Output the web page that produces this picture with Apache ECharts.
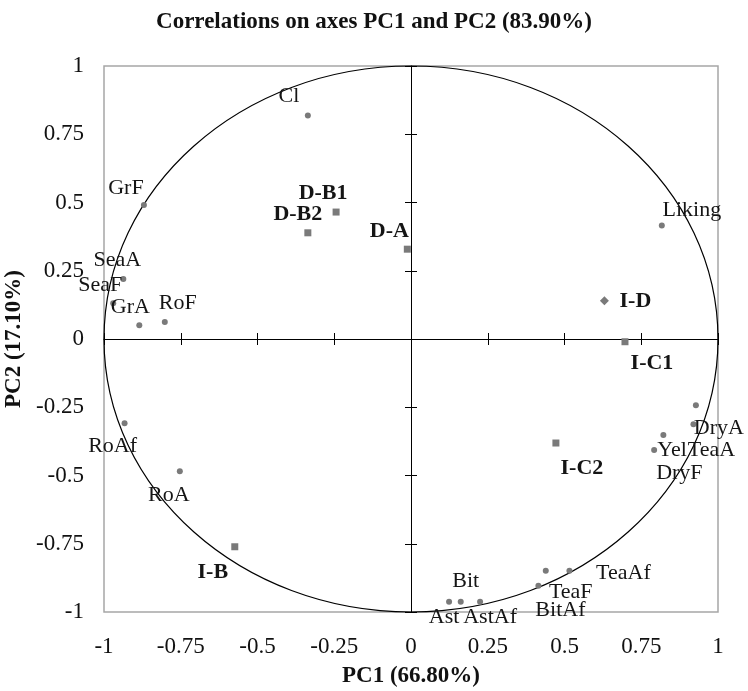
<!DOCTYPE html>
<html>
<head>
<meta charset="utf-8">
<script src="https://cdn.jsdelivr.net/npm/echarts@6/dist/echarts.min.js"></script>
<style>html,body{margin:0;padding:0;background:#fff}#c{width:748px;height:691px}</style>
</head>
<body>
<div id="c"></div>
<script>
// ---- data ----
var xTicks = [-1, -0.75, -0.5, -0.25, 0, 0.25, 0.5, 0.75, 1];
var yTicks = [-1, -0.75, -0.5, -0.25, 0, 0.25, 0.5, 0.75, 1];

var varNames = ['Cl','GrF','SeaA','SeaF','GrA','RoF','Liking','DryA','TeaA','DryF','Yel','Ast','Bit','AstAf','BitAf','TeaF','TeaAf','RoAf','RoA'];
var varX = [-0.336,-0.870,-0.937,-0.970,-0.885,-0.802,0.817,0.928,0.920,0.822,0.792,0.124,0.162,0.225,0.415,0.439,0.516,-0.933,-0.753];
var varY = [0.819,0.491,0.220,0.131,0.050,0.062,0.416,-0.243,-0.312,-0.352,-0.407,-0.962,-0.962,-0.962,-0.904,-0.849,-0.849,-0.309,-0.484];

var sampleNames = ['D-B1','D-B2','D-A','I-C1','I-C2','I-B'];
var sampleX = [-0.244,-0.336,-0.012,0.697,0.472,-0.574];
var sampleY = [0.465,0.389,0.329,-0.010,-0.381,-0.761];

var idNames = ['I-D'];
var idX = [0.630];
var idY = [0.140];

// ---- label placement (styling, px offsets of label centre from marker) ----
var labelOffsets = {
  'Cl':[-19,-19],'GrF':[-18,-17],'SeaA':[-6,-19],'SeaF':[-13,-18],'GrA':[-9,-18],'RoF':[13,-19],
  'Liking':[30,-15],'DryA':[23,23],'TeaA':[18,26],'DryF':[16,38],'Yel':[18,0],
  'Ast':[-5,16],'Bit':[5,-20],'AstAf':[10,16],'BitAf':[22,24],'TeaF':[25,21],'TeaAf':[54,2],
  'RoAf':[-12,23],'RoA':[-11,24],
  'D-B1':[-13,-19],'D-B2':[-10,-18],'D-A':[-18,-18],'I-C1':[27,22],'I-C2':[26,25],'I-B':[-22,26],'I-D':[31,1]
};

var FONT = 'Liberation Serif, Times New Roman, serif';

function build(names, xs, ys, bold) {
  return names.map(function (n, i) {
    return {
      name: n,
      value: [xs[i], ys[i]],
      label: {
        show: true, formatter: n, position: 'inside',
        offset: labelOffsets[n] || [0, 0],
        align: 'center', verticalAlign: 'middle',
        color: '#151515', textBorderWidth: 0, textBorderColor: 'transparent',
        fontFamily: FONT, fontSize: 22,
        fontWeight: bold ? 'bold' : 'normal'
      }
    };
  });
}

var chart = echarts.init(document.getElementById('c'));

var baseX = {
  type: 'value', min: -1, max: 1, interval: 0.25, position: 'bottom',
  splitLine: { show: false }
};
var baseY = {
  type: 'value', min: -1, max: 1, interval: 0.25, position: 'left',
  splitLine: { show: false }
};

var option = {
  backgroundColor: '#fff',
  animation: false,
  title: {
    text: 'Correlations on axes PC1 and PC2 (83.90%)',
    left: 'center', top: 6,
    textStyle: { fontFamily: FONT, fontWeight: 'bold', fontSize: 23, color: '#111' }
  },
  grid: {
    left: 104, right: 30, top: 66, bottom: 79,
    outerBoundsMode: 'none', containLabel: false,
    show: true, borderColor: '#a6a6a6', borderWidth: 1.5, backgroundColor: 'transparent'
  },
  xAxis: [
    Object.assign({}, baseX, {
      axisLine: { show: false, onZero: false },
      axisTick: { show: false },
      axisLabel: {
        margin: 23, fontFamily: FONT, fontSize: 23, color: '#111',
        formatter: function (v) { var t = xTicks.filter(function (k) { return Math.abs(k - v) < 1e-9; }); return t.length ? String(t[0]) : ''; }
      },
      name: 'PC1 (66.80%)', nameLocation: 'middle', nameGap: 53,
      nameTextStyle: { fontFamily: FONT, fontWeight: 'bold', fontSize: 23, color: '#111' }
    }),
    Object.assign({}, baseX, {
      axisLine: { show: true, onZero: true, onZeroAxisIndex: 0, lineStyle: { color: '#000', width: 1 } },
      axisTick: { show: true, inside: false, length: 6, lineStyle: { color: '#000', width: 1 } },
      axisLabel: { show: false }
    }),
    Object.assign({}, baseX, {
      axisLine: { show: false, onZero: true, onZeroAxisIndex: 0 },
      axisTick: { show: true, inside: true, length: 6, lineStyle: { color: '#000', width: 1 } },
      axisLabel: { show: false }
    })
  ],
  yAxis: [
    Object.assign({}, baseY, {
      axisLine: { show: false, onZero: false },
      axisTick: { show: false },
      axisLabel: {
        margin: 20, fontFamily: FONT, fontSize: 23, color: '#111',
        formatter: function (v) { var t = yTicks.filter(function (k) { return Math.abs(k - v) < 1e-9; }); return t.length ? String(t[0]) : ''; }
      },
      name: 'PC2 (17.10%)', nameLocation: 'middle', nameGap: 70,
      nameTextStyle: { fontFamily: FONT, fontWeight: 'bold', fontSize: 23, color: '#111' }
    }),
    Object.assign({}, baseY, {
      axisLine: { show: true, onZero: true, onZeroAxisIndex: 0, lineStyle: { color: '#000', width: 1 } },
      axisTick: { show: true, inside: false, length: 6, lineStyle: { color: '#000', width: 1 } },
      axisLabel: { show: false }
    }),
    Object.assign({}, baseY, {
      axisLine: { show: false, onZero: true, onZeroAxisIndex: 0 },
      axisTick: { show: true, inside: true, length: 6, lineStyle: { color: '#000', width: 1 } },
      axisLabel: { show: false }
    })
  ],
  series: [
    {
      name: 'Variables', type: 'scatter', xAxisIndex: 0, yAxisIndex: 0,
      symbol: 'circle', symbolSize: 6,
      itemStyle: { color: '#7a7a7a', opacity: 1 },
      data: build(varNames, varX, varY, false), z: 5
    },
    {
      name: 'Samples', type: 'scatter', xAxisIndex: 0, yAxisIndex: 0,
      symbol: 'rect', symbolSize: 7,
      itemStyle: { color: '#7a7a7a', opacity: 1 },
      data: build(sampleNames, sampleX, sampleY, true), z: 5
    },
    {
      name: 'I-D', type: 'scatter', xAxisIndex: 0, yAxisIndex: 0,
      symbol: 'diamond', symbolSize: 9,
      itemStyle: { color: '#7a7a7a', opacity: 1 },
      data: build(idNames, idX, idY, true), z: 5
    }
  ]
};

chart.setOption(option);

// correlation circle (unit circle) drawn through the axes' own scale
var c0 = chart.convertToPixel({ xAxisIndex: 0, yAxisIndex: 0 }, [0, 0]);
var cx1 = chart.convertToPixel({ xAxisIndex: 0, yAxisIndex: 0 }, [1, 0]);
var cy1 = chart.convertToPixel({ xAxisIndex: 0, yAxisIndex: 0 }, [0, 1]);
chart.setOption({
  graphic: [{
    type: 'ellipse', silent: true, z: 3,
    shape: { cx: c0[0], cy: c0[1], rx: cx1[0] - c0[0], ry: c0[1] - cy1[1] },
    style: { fill: null, stroke: '#000', lineWidth: 1.2 }
  }]
});
</script>
</body>
</html>
